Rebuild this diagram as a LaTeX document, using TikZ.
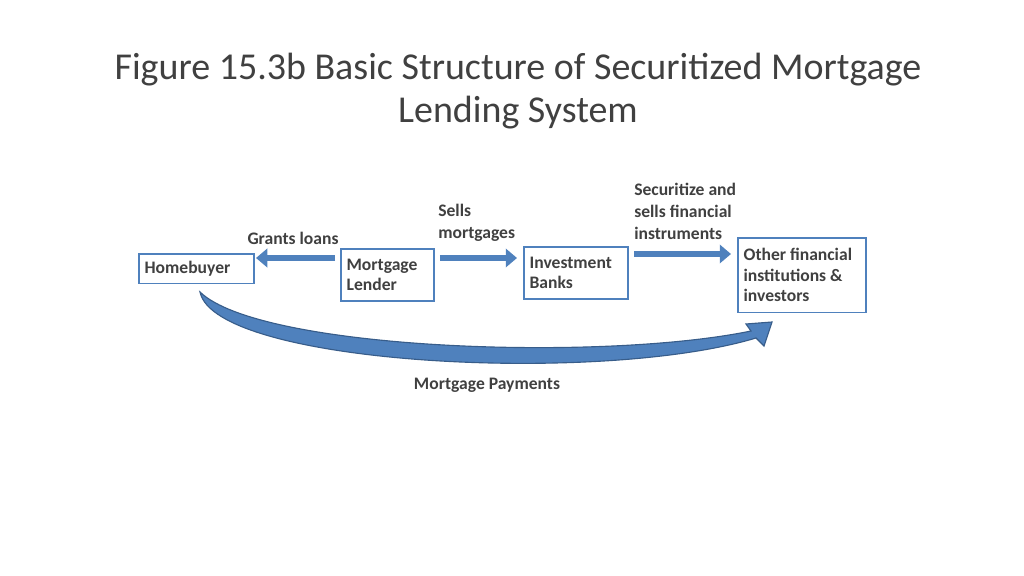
\documentclass[tikz,border=0pt]{standalone}
\usepackage{fontspec}
\setmainfont{Carlito}
\usetikzlibrary{arrows.meta, positioning}
\definecolor{boxblue}{HTML}{4F81BD}
\definecolor{edgeblue}{HTML}{385D8A}
\definecolor{ink}{HTML}{404040}
\begin{document}
\begin{tikzpicture}[x=0.025cm, y=-0.025cm, >=latex]
  \tikzstyle{party} = [draw=boxblue, line width=1.4pt, rectangle, anchor=north west, align=flush left, inner sep=4pt, font=\bfseries\fontsize{12.5}{14.5}\selectfont, text=ink]
  \tikzstyle{note} = [align=flush left, font=\bfseries\fontsize{12.5}{15.5}\selectfont, text=ink, inner sep=0pt]
  \tikzstyle{flow} = [draw=boxblue, line width=4.5pt, -{Triangle[length=8pt, width=13pt]}]
  \useasboundingbox (0,0) rectangle (1024,576);

  \node[font=\fontsize{27}{30}\selectfont, text=ink, align=center] (title) at (518,91) {Figure 15.3b Basic Structure of Securitized Mortgage\\Lending System};

  \node[party, text width=74pt, minimum height=21pt] (home) at (138,253) {Homebuyer};
  \node[party, text width=58pt, minimum height=37pt] (lender) at (340,248) {Mortgage\\Lender};
  \node[party, text width=66pt, minimum height=37pt] (banks) at (523,246) {Investment\\Banks};
  \node[party, text width=83pt, minimum height=53pt] (other) at (737,237) {Other financial\\institutions \&\\investors};

  \draw[flow] (lender.west |- 0,258) ++(-5,0) -- (256,258);
  \draw[flow] (lender.east |- 0,258) ++(5,0) -- (517,258);
  \draw[flow] (banks.east |- 0,254) ++(5,0) -- (731,254);

  \node[note, anchor=center] (grants) at (293,238) {Grants loans};
  \node[note, anchor=north west] (sells) at (438,204) {Sells\\mortgages};
  \node[note, anchor=north west] (secur) at (634,183) {Securitize and\\sells financial\\instruments};

  % curved payment arrow
  \coordinate (pstart) at (200,292);
  \fill[boxblue, draw=edgeblue, line width=0.8pt]
    (pstart) .. controls (215,365) and (600,385) .. (756,338)
    -- (764,346) -- (772,322) -- (746,324) -- (751,331)
    .. controls (600,362) and (260,350) .. (pstart) -- cycle;

  \node[note] (pay) at (487,385) {Mortgage Payments};
\end{tikzpicture}
\end{document}
